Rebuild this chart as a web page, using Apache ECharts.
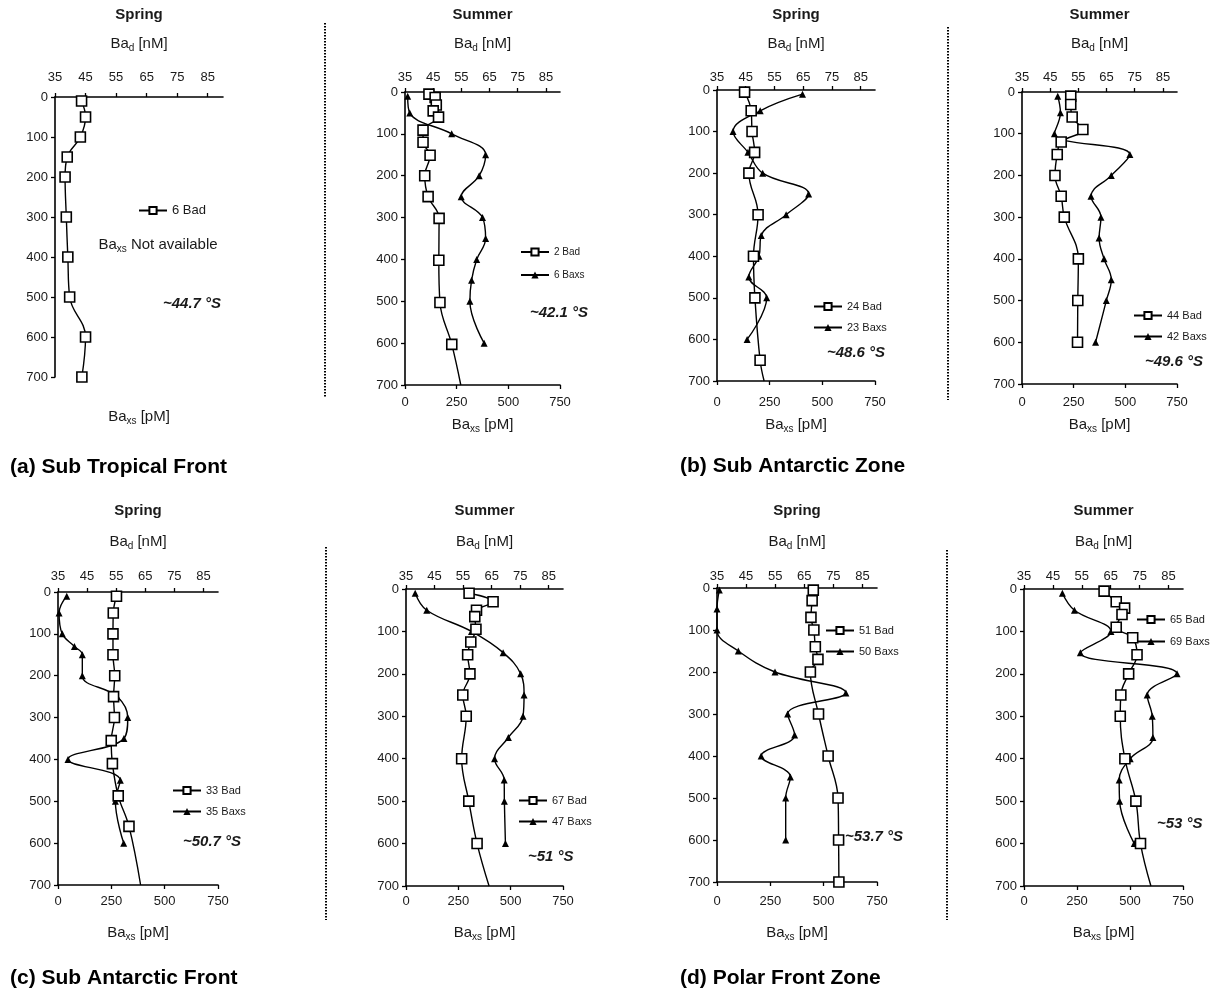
<!DOCTYPE html>
<html>
<head>
<meta charset="utf-8">
<script src="https://cdn.jsdelivr.net/npm/echarts@6/dist/echarts.min.js"></script>
<style>
  html, body { margin: 0; padding: 0; background: #fff; }
  #main { width: 1214px; height: 991px; }
</style>
</head>
<body>
<div id="main"></div>
<script>
const depthTicks = [0, 100, 200, 300, 400, 500, 600, 700]
const badTicks = [35, 45, 55, 65, 75, 85]
const baxsTicks = [0, 250, 500, 750]

// (a) Sub Tropical Front - spring, ~44.7 S (no Baxs)
const aSpringBadDepth = [10, 50, 100, 150, 200, 300, 400, 500, 600, 700]
const aSpringBad = [43.7, 45.0, 43.3, 39.0, 38.3, 38.7, 39.2, 39.8, 45.0, 43.8]

// (a) summer, ~42.1 S
const aSummerBadDepth = [5, 13, 31, 45, 60, 91, 120, 151, 200, 250, 302, 402, 503, 603]
const aSummerBad = [43.5, 45.7, 46.1, 45.0, 46.9, 41.4, 41.4, 43.9, 42.0, 43.2, 47.1, 47.0, 47.4, 51.6]
const aSummerBadEnd = 54.8
const aSummerBaxsDepth = [10, 50, 100, 150, 200, 250, 300, 350, 400, 450, 500, 600]
const aSummerBaxs = [13, 23, 226, 390, 359, 272, 375, 390, 347, 322, 314, 383]

// (b) Sub Antarctic Zone - spring, ~48.6 S
const bSpringBadDepth = [5, 50, 100, 150, 200, 300, 400, 500, 650]
const bSpringBad = [44.6, 46.9, 47.2, 48.1, 46.1, 49.3, 47.7, 48.2, 50.0]
const bSpringBadEnd = 51.4
const bSpringBaxsDepth = [10, 50, 100, 150, 200, 250, 300, 350, 400, 450, 500, 600]
const bSpringBaxs = [406, 205, 76, 147, 217, 435, 328, 210, 199, 151, 236, 143]

// (b) summer, ~49.6 S
const bSummerBadDepth = [10, 30, 60, 90, 120, 150, 200, 250, 300, 400, 500, 600]
const bSummerBad = [52.3, 52.3, 52.8, 56.6, 48.9, 47.5, 46.7, 48.9, 50.0, 55.0, 54.8, 54.7]
const bSummerBaxsDepth = [10, 50, 100, 150, 200, 250, 300, 350, 400, 450, 500, 600]
const bSummerBaxs = [173, 186, 157, 522, 432, 334, 382, 373, 397, 432, 408, 356]

// (c) Sub Antarctic Front - spring, ~50.7 S
const cSpringBadDepth = [10, 50, 100, 150, 200, 250, 300, 355, 410, 487, 560]
const cSpringBad = [55.1, 54.0, 53.9, 53.9, 54.5, 54.1, 54.4, 53.3, 53.7, 55.7, 59.4]
const cSpringBadEnd = 63.4
const cSpringBaxsDepth = [10, 50, 100, 130, 150, 200, 250, 300, 350, 400, 450, 500, 600]
const cSpringBaxs = [41, 5, 20, 77, 114, 114, 278, 327, 309, 47, 292, 269, 308]

// (c) summer, ~51 S
const cSummerBadDepth = [10, 30, 50, 65, 95, 125, 155, 200, 250, 300, 400, 500, 600]
const cSummerBad = [57.1, 65.5, 59.7, 59.1, 59.5, 57.7, 56.6, 57.4, 54.9, 56.1, 54.5, 57.0, 59.9]
const cSummerBadEnd = 64.1
const cSummerBaxsDepth = [10, 50, 100, 150, 200, 250, 300, 350, 400, 450, 500, 600]
const cSummerBaxs = [44, 99, 313, 464, 548, 564, 559, 489, 423, 469, 470, 475]

// (d) Polar Front Zone - spring, ~53.7 S
const dSpringBadDepth = [5, 30, 70, 100, 140, 170, 200, 300, 400, 500, 600, 700]
const dSpringBad = [68.1, 67.7, 67.3, 68.3, 68.8, 69.7, 67.1, 69.9, 73.2, 76.6, 76.8, 76.9]
const dSpringBaxsDepth = [5, 50, 100, 150, 200, 250, 300, 350, 400, 450, 500, 600]
const dSpringBaxs = [11, 0, 0, 100, 272, 604, 331, 364, 207, 344, 322, 322]

// (d) summer, ~53 S
const dSummerBadDepth = [5, 30, 45, 60, 90, 115, 155, 200, 250, 300, 400, 500, 600]
const dSummerBad = [62.7, 66.9, 69.8, 68.9, 66.9, 72.6, 74.1, 71.2, 68.5, 68.3, 69.9, 73.7, 75.3]
const dSummerBadEnd = 78.9
const dSummerBaxsDepth = [10, 50, 100, 150, 200, 250, 300, 350, 400, 450, 500, 600]
const dSummerBaxs = [181, 238, 410, 266, 722, 581, 605, 608, 501, 449, 451, 520]

const FONT = "'Liberation Sans', Arial, sans-serif"
const INK = '#1a1a1a'

function pts(depths, vals, end) {
  const d = depths.map((y, i) => [vals[i], y])
  if (end != null) d.push({ value: [end, 700], symbol: 'none' })
  return d
}

const panels = [
  { title: 'Spring', grid: { left: 55, top: 97, width: 168, height: 280 }, row: 0, noBaxs: true,
    bad: pts(aSpringBadDepth, aSpringBad), badName: '6 Bad',
    legend: { left: 138, top: 204, font: 13, gap: 9 }, lat: '~44.7 °S', latPos: [163, 304], baxsY: 417 },
  { title: 'Summer', grid: { left: 405, top: 92, width: 155, height: 293 }, row: 0,
    bad: pts(aSummerBadDepth, aSummerBad, aSummerBadEnd), badName: '2 Bad',
    baxs: pts(aSummerBaxsDepth, aSummerBaxs), baxsName: '6 Baxs',
    legend: { left: 520, top: 247, font: 10, gap: 13 }, lat: '~42.1 °S', latPos: [530, 313], baxsY: 425 },
  { title: 'Spring', grid: { left: 717, top: 90, width: 158, height: 291 }, row: 0,
    bad: pts(bSpringBadDepth, bSpringBad, bSpringBadEnd), badName: '24 Bad',
    baxs: pts(bSpringBaxsDepth, bSpringBaxs), baxsName: '23 Baxs',
    legend: { left: 813, top: 301, font: 11, gap: 10 }, lat: '~48.6 °S', latPos: [827, 353], baxsY: 425 },
  { title: 'Summer', grid: { left: 1022, top: 92, width: 155, height: 292 }, row: 0,
    bad: pts(bSummerBadDepth, bSummerBad), badName: '44 Bad',
    baxs: pts(bSummerBaxsDepth, bSummerBaxs), baxsName: '42 Baxs',
    legend: { left: 1133, top: 310, font: 11, gap: 10 }, lat: '~49.6 °S', latPos: [1145, 362], baxsY: 425 },
  { title: 'Spring', grid: { left: 58, top: 592, width: 160, height: 293 }, row: 1,
    bad: pts(cSpringBadDepth, cSpringBad, cSpringBadEnd), badName: '33 Bad',
    baxs: pts(cSpringBaxsDepth, cSpringBaxs), baxsName: '35 Baxs',
    legend: { left: 172, top: 785, font: 11, gap: 10 }, lat: '~50.7 °S', latPos: [183, 842], baxsY: 933 },
  { title: 'Summer', grid: { left: 406, top: 589, width: 157, height: 297 }, row: 1,
    bad: pts(cSummerBadDepth, cSummerBad, cSummerBadEnd), badName: '67 Bad',
    baxs: pts(cSummerBaxsDepth, cSummerBaxs), baxsName: '47 Baxs',
    legend: { left: 518, top: 795, font: 11, gap: 10 }, lat: '~51 °S', latPos: [528, 857], baxsY: 933 },
  { title: 'Spring', grid: { left: 717, top: 588, width: 160, height: 294 }, row: 1,
    bad: pts(dSpringBadDepth, dSpringBad), badName: '51 Bad',
    baxs: pts(dSpringBaxsDepth, dSpringBaxs), baxsName: '50 Baxs',
    legend: { left: 825, top: 625, font: 11, gap: 10 }, lat: '~53.7 °S', latPos: [845, 837], baxsY: 933 },
  { title: 'Summer', grid: { left: 1024, top: 589, width: 159, height: 297 }, row: 1,
    bad: pts(dSummerBadDepth, dSummerBad, dSummerBadEnd), badName: '65 Bad',
    baxs: pts(dSummerBaxsDepth, dSummerBaxs), baxsName: '69 Baxs',
    legend: { left: 1136, top: 614, font: 11, gap: 11 }, lat: '~53 °S', latPos: [1157, 824], baxsY: 933 },
]

const rowY = [
  { title: 15, bad: 44, topLabel: 77, bottomLabel: 403 },
  { title: 511, bad: 542, topLabel: 575.5, bottomLabel: 902 },
]

const axisLine = { show: true, onZero: false, lineStyle: { color: '#000', width: 1.6 } }
const axisTick = { show: true, length: 4, lineStyle: { color: '#000', width: 1.3 } }
const labelStyle = { color: INK, fontSize: 13, fontFamily: FONT }
const subRich = {
  m: { fontSize: 15, fontFamily: FONT, fill: INK, lineHeight: 18 },
  s: { fontSize: 10, fontFamily: FONT, fill: INK, verticalAlign: 'bottom', lineHeight: 12 },
}

let grids = [], xAxes = [], yAxes = [], series = [], legends = [], graphics = []

panels.forEach((p, i) => {
  const g = p.grid
  const r = rowY[p.row]
  grids.push({ left: g.left, top: g.top, width: g.width, height: g.height, containLabel: false, outerBoundsMode: 'none' })
  xAxes.push({
    gridIndex: i, type: 'value', position: 'top', min: 35, max: 90, interval: 10,
    axisLine: axisLine, splitLine: { show: false },
    axisTick: Object.assign({ customValues: badTicks }, axisTick),
    axisLabel: Object.assign({ customValues: badTicks, margin: g.top - r.topLabel - 7 }, labelStyle),
  })
  xAxes.push({
    gridIndex: i, type: 'value', position: 'bottom', min: 0, max: 750, interval: 250,
    show: !p.noBaxs,
    axisLine: axisLine, splitLine: { show: false }, axisTick: axisTick,
    axisLabel: Object.assign({ customValues: baxsTicks, margin: r.bottomLabel - (g.top + g.height) - 7 }, labelStyle),
  })
  yAxes.push({
    gridIndex: i, type: 'value', inverse: true, min: 0, max: 700, interval: 100,
    axisLine: axisLine, splitLine: { show: false }, axisTick: axisTick,
    axisLabel: Object.assign({ customValues: depthTicks, margin: 7 }, labelStyle),
  })

  series.push({
    name: p.badName, type: 'line', xAxisIndex: 2 * i, yAxisIndex: i,
    data: p.bad, smooth: 0.4, symbol: 'rect', symbolSize: 10,
    itemStyle: { color: '#fff', borderColor: '#000', borderWidth: 1.6 },
    lineStyle: { color: '#000', width: 1.4 },
    z: 3,
  })
  const names = [p.badName]
  if (p.baxs) {
    series.push({
      name: p.baxsName, type: 'line', xAxisIndex: 2 * i + 1, yAxisIndex: i,
      data: p.baxs, smooth: 0.4, symbol: 'triangle', symbolSize: 7,
      itemStyle: { color: '#000' },
      lineStyle: { color: '#000', width: 1.4 },
      z: 2,
    })
    names.push(p.baxsName)
  }

  legends.push({
    left: p.legend.left, top: p.legend.top, orient: 'vertical', itemGap: p.legend.gap,
    itemWidth: 28, itemHeight: 9, selectedMode: false, data: names, padding: 0,
    textStyle: { fontSize: p.legend.font, color: INK, fontFamily: FONT },
  })

  const cx = g.left + g.width / 2
  graphics.push({
    type: 'text', x: cx, y: r.title,
    style: { text: p.title, align: 'center', verticalAlign: 'middle', fontSize: 15, fontWeight: 'bold', fontFamily: FONT, fill: INK },
  })
  graphics.push({
    type: 'text', x: cx, y: r.bad,
    style: { text: '{m|Ba}{s|d}{m| [nM]}', align: 'center', verticalAlign: 'middle', fill: INK, rich: subRich },
  })
  graphics.push({
    type: 'text', x: cx, y: p.baxsY,
    style: { text: '{m|Ba}{s|xs}{m| [pM]}', align: 'center', verticalAlign: 'middle', fill: INK, rich: subRich },
  })
  graphics.push({
    type: 'text', x: p.latPos[0], y: p.latPos[1],
    style: { text: p.lat, align: 'left', verticalAlign: 'middle', fontSize: 15, fontWeight: 'bold', fontStyle: 'italic', fontFamily: FONT, fill: INK },
  })
})

// "Ba_xs Not available" note in panel (a) spring
graphics.push({
  type: 'text', x: 158, y: 245,
  style: { text: '{m|Ba}{s|xs}{m| Not available}', align: 'center', verticalAlign: 'middle', fill: INK, rich: subRich },
})

// section captions
const captions = [['(a) Sub Tropical Front', 10, 467], ['(b) Sub Antarctic Zone', 680, 466],
  ['(c) Sub Antarctic Front', 10, 978], ['(d) Polar Front Zone', 680, 978]]
captions.forEach(c => {
  graphics.push({
    type: 'text', x: c[1], y: c[2],
    style: { text: c[0], align: 'left', verticalAlign: 'middle', fontSize: 21, fontWeight: 'bold', fontFamily: FONT, fill: '#000' },
  })
})

// dotted separators between spring / summer
const seps = [[325, 23, 397], [948, 27, 400], [326, 547, 920], [947, 550, 920]]
seps.forEach(s => {
  graphics.push({
    type: 'line', shape: { x1: s[0], y1: s[1], x2: s[0], y2: s[2] },
    style: { stroke: '#000', lineWidth: 2, lineDash: [1.5, 1.5] },
  })
})

const myChart = echarts.init(document.getElementById('main'), null, { renderer: 'canvas' })
myChart.setOption({
  animation: false,
  backgroundColor: '#fff',
  grid: grids,
  xAxis: xAxes,
  yAxis: yAxes,
  legend: legends,
  series: series,
  graphic: graphics,
})
</script>
</body>
</html>
